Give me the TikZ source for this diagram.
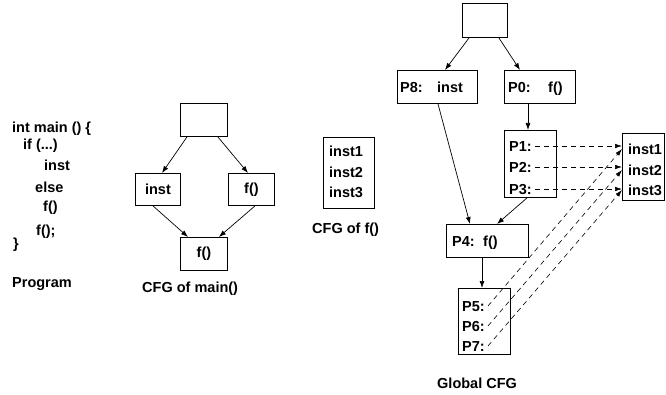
\documentclass[tikz,border=0pt]{standalone}
\usepackage{fontspec}
\setmainfont{Liberation Sans}
\usetikzlibrary{arrows.meta}
\begin{document}
\begin{tikzpicture}[x=1pt,y=-1pt,
  every node/.style={font=\fontsize{14.5}{17}\selectfont\bfseries},
  box/.style={draw, line width=0.9pt, inner sep=0pt, anchor=north west},
  txt/.style={inner sep=0pt, anchor=west, text height=10.4pt, text depth=0pt},
  flow/.style={-{Latex[length=7pt,width=5pt]}, line width=0.7pt},
  call/.style={-{Latex[length=7pt,width=4.5pt]}, line width=0.6pt, dash pattern=on 5pt off 4pt},
]
\useasboundingbox (0,0) rectangle (666,395);

% ---- source program ----
\node[txt] (l1) at (12,127) {int main () \{};
\node[txt] (l2) at (23,144) {if (...)};
\node[txt] (l3) at (44,165) {inst};
\node[txt] (l4) at (35,187) {else};
\node[txt] (l5) at (43,206) {f()};
\node[txt] (l6) at (36,230) {f();};
\node[txt] (l7) at (13,243) {\}};
\node[txt] (prog) at (12,282) {Program};

% ---- CFG of main() ----
\node[box, minimum width=47pt, minimum height=33pt] (mtop) at (180,103) {};
\node[box, minimum width=45pt, minimum height=32pt] (minst) at (135,173) {inst};
\node[box, minimum width=46pt, minimum height=32pt] (mf) at (228,173) {f()};
\node[box, minimum width=47pt, minimum height=33pt] (mbot) at (180,237) {f()};
\node[txt] (mlbl) at (142,287) {CFG of main()};

\draw[flow] ([xshift=7pt]mtop.south west) -- ([xshift=27pt]minst.north west);
\draw[flow] ([xshift=-10pt]mtop.south east) -- ([xshift=20pt]mf.north west);
\draw[flow] ([xshift=18pt]minst.south west) -- ([xshift=8pt]mbot.north west);
\draw[flow] ([xshift=27pt]mf.south west) -- ([xshift=-9pt]mbot.north east);

% ---- CFG of f() ----
\node[box, minimum width=51pt, minimum height=71pt] (fbox) at (323,137) {};
\node[txt] (f1) at (329,151) {inst1};
\node[txt] (f2) at (329,172) {inst2};
\node[txt] (f3) at (329,192) {inst3};
\node[txt] (flbl) at (312,228) {CFG of f()};

% ---- global CFG ----
\node[box, minimum width=45pt, minimum height=34pt] (gtop) at (462,3) {};
\node[box, minimum width=80pt, minimum height=33pt] (p8) at (397,70) {};
\node[txt] (p8a) at (400,87) {P8:};
\node[txt] (p8b) at (437,87) {inst};
\node[box, minimum width=71pt, minimum height=33pt] (p0) at (504,70) {};
\node[txt] (p0a) at (508,87) {P0:};
\node[txt] (p0b) at (548,87) {f()};

\node[box, minimum width=52pt, minimum height=67pt] (p1box) at (504,130) {};
\node[txt] (p1) at (509,146) {P1:};
\node[txt] (p2) at (509,167) {P2:};
\node[txt] (p3) at (509,189) {P3:};

\node[box, minimum width=42pt, minimum height=67pt] (ibox) at (622,133) {};
\node[txt] (g1) at (628,149) {inst1};
\node[txt] (g2) at (628,170) {inst2};
\node[txt] (g3) at (628,190) {inst3};

\node[box, minimum width=82pt, minimum height=33pt] (p4) at (446,224) {};
\node[txt] (p4a) at (452,241) {P4:};
\node[txt] (p4b) at (483,241) {f()};

\node[box, minimum width=52pt, minimum height=66pt] (p5box) at (458,288) {};
\node[txt] (p5) at (462,306) {P5:};
\node[txt] (p6) at (462,326) {P6:};
\node[txt] (p7) at (462,346) {P7:};

\node[txt] (glbl) at (437,383) {Global CFG};

\draw[flow] ([xshift=7pt]gtop.south west) -- ([xshift=48pt]p8.north west);
\draw[flow] ([xshift=-9pt]gtop.south east) -- ([xshift=16pt]p0.north west);
\draw[flow] ([xshift=24pt]p0.south west) -- ([xshift=24pt]p1box.north west);
\draw[flow] ([xshift=41pt]p8.south west) -- ([xshift=24pt]p4.north west);
\draw[flow] ([xshift=23pt]p1box.south west) -- ([xshift=51pt]p4.north west);
\draw[flow] ([xshift=36pt]p4.south west) -- ([xshift=24pt]p5box.north west);

% calls into f()
\draw[call] ([xshift=3pt]p1.east) -- (ibox.west |- p1.east);
\draw[call] ([xshift=3pt]p2.east) -- (ibox.west |- p2.east);
\draw[call] ([xshift=3pt]p3.east) -- (ibox.west |- p3.east);
\draw[call] ([xshift=3pt]p5.east) -- (ibox.west |- g1.west);
\draw[call] ([xshift=3pt]p6.east) -- (ibox.west |- g2.west);
\draw[call] ([xshift=3pt]p7.east) -- (ibox.west |- g3.west);
\end{tikzpicture}
\end{document}
